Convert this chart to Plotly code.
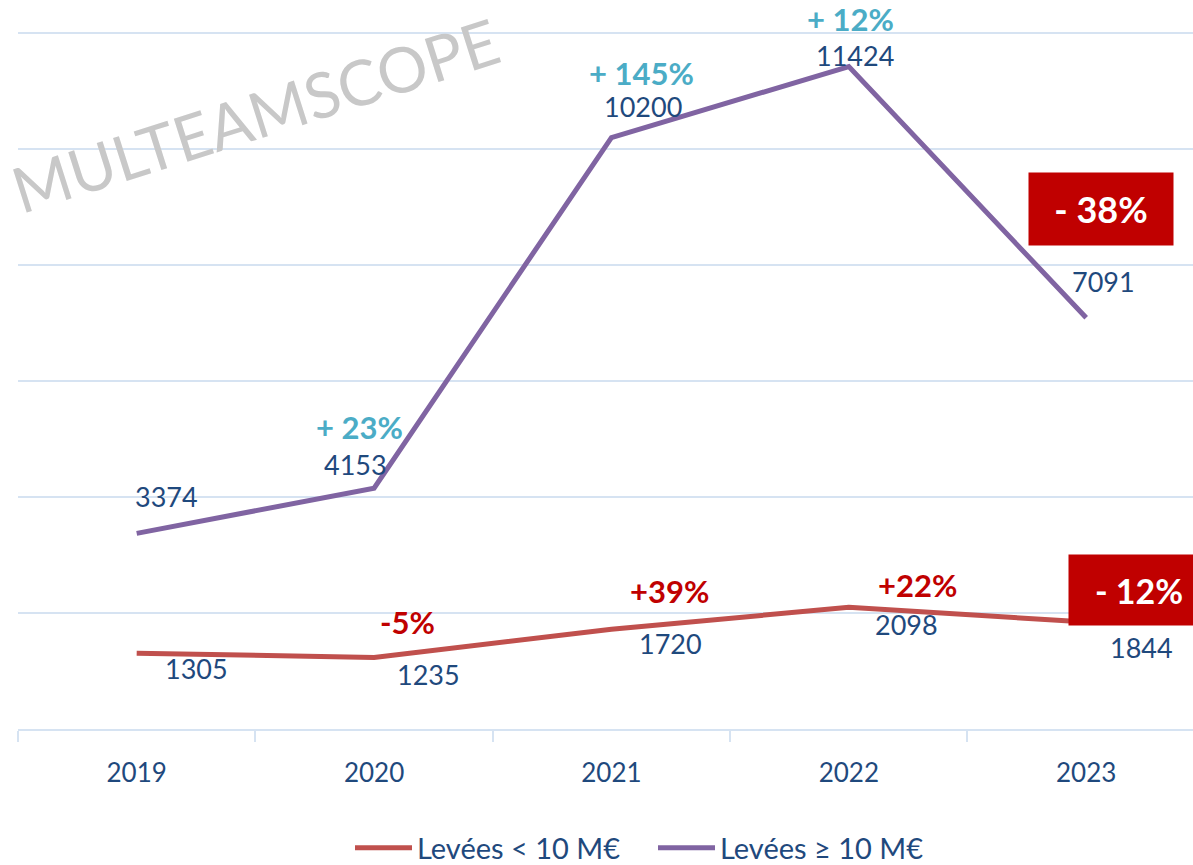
import plotly.graph_objects as go

years = ["2019", "2020", "2021", "2022", "2023"]
small = [1305, 1235, 1720, 2098, 1844]
large = [3374, 4153, 10200, 11424, 7091]
small_pct = [None, "-5%", "+39%", "+22%", "- 12%"]
large_pct = [None, "+ 23%", "+ 145%", "+ 12%", "- 38%"]
series_names = ["Levées < 10 M€", "Levées ≥ 10 M€"]

FONT = "Lato"
TXT = "#1F497D"
RED_LINE = "#C0504D"
PURPLE = "#8064A2"
CYAN = "#4BACC6"
DARKRED = "#C00000"
GRID = "#D6E3F2"

fig = go.Figure()
fig.add_trace(go.Scatter(x=list(range(5)), y=small, mode="lines", name=series_names[0],
                         line=dict(color=RED_LINE, width=5)))
fig.add_trace(go.Scatter(x=list(range(5)), y=large, mode="lines", name=series_names[1],
                         line=dict(color=PURPLE, width=5)))

ann = []
# watermark
ann.append(dict(text="MULTEAMSCOPE", xref="paper", yref="paper",
                x=(255 - 18) / 1175, y=(729 - 115) / 696, showarrow=False,
                textangle=-17.6, font=dict(family=FONT, size=63, color="#C8C8C8"),
                xanchor="center", yanchor="middle"))

# value label offsets (pixels)
large_shift = [(30, 37), (-19, 24), (32, 31), (6, 11), (17, 36)]
small_shift = [(60, -15), (54, -17), (59, -14), (58, -17), (55, -25)]
for i in range(5):
    ann.append(dict(text=str(large[i]), x=i, y=large[i], xref="x", yref="y", showarrow=False,
                    xshift=large_shift[i][0], yshift=large_shift[i][1],
                    font=dict(family=FONT, size=27, color=TXT)))
    ann.append(dict(text=str(small[i]), x=i, y=small[i], xref="x", yref="y", showarrow=False,
                    xshift=small_shift[i][0], yshift=small_shift[i][1],
                    font=dict(family=FONT, size=27, color=TXT)))

large_pct_shift = [None, (-15, 61), (30, 65), (2, 48), (15, 109)]
small_pct_shift = [None, (33, 35), (58, 38), (69, 22), (53, 32)]
for i in range(1, 5):
    if i < 4:
        ann.append(dict(text="<b>%s</b>" % large_pct[i], x=i, y=large[i], xref="x", yref="y",
                        showarrow=False, xshift=large_pct_shift[i][0], yshift=large_pct_shift[i][1],
                        font=dict(family=FONT, size=31, color=CYAN)))
        ann.append(dict(text="<b>%s</b>" % small_pct[i], x=i, y=small[i], xref="x", yref="y",
                        showarrow=False, xshift=small_pct_shift[i][0], yshift=small_pct_shift[i][1],
                        font=dict(family=FONT, size=31, color=DARKRED)))
    else:
        ann.append(dict(text="<b>%s</b>" % large_pct[i], x=i, y=large[i], xref="x", yref="y",
                        showarrow=False, xshift=large_pct_shift[i][0], yshift=large_pct_shift[i][1],
                        bgcolor=DARKRED, width=144, height=72, borderpad=0,
                        font=dict(family=FONT, size=36, color="white")))
        ann.append(dict(text="<b>%s</b>" % small_pct[i], x=i, y=small[i], xref="x", yref="y",
                        showarrow=False, xshift=small_pct_shift[i][0], yshift=small_pct_shift[i][1],
                        bgcolor=DARKRED, width=140, height=70, borderpad=0,
                        font=dict(family=FONT, size=34, color="white")))

fig.update_layout(
    width=1193, height=865,
    margin=dict(l=18, r=0, t=32, b=136),
    paper_bgcolor="white", plot_bgcolor="white",
    font=dict(family=FONT, color=TXT),
    annotations=ann,
    showlegend=True,
    legend=dict(orientation="h", x=(350 - 18) / 1175, xanchor="left",
                yref="container", y=17 / 865, yanchor="middle",
                font=dict(family=FONT, size=29, color=TXT), itemwidth=57,
                entrywidth=231, entrywidthmode="pixels", tracegroupgap=0),
    xaxis=dict(range=[-0.5, 4.45], tickmode="array", tickvals=list(range(5)), ticktext=years,
               showgrid=False, zeroline=False, showline=True, linecolor=GRID, linewidth=2,
               ticks="", tickfont=dict(family=FONT, size=26, color=TXT), ticklabelstandoff=20,
               fixedrange=True),
    yaxis=dict(range=[0, 12020], tickvals=[0, 2000, 4000, 6000, 8000, 10000, 12000],
               showgrid=True, gridcolor=GRID, gridwidth=2,
               showticklabels=False, zeroline=False, showline=False, ticks=""),
)

fig.update_xaxes(minor=dict(tickmode="array", tickvals=[-0.5, 0.5, 1.5, 2.5, 3.5],
                            ticks="outside", ticklen=11, tickcolor=GRID, tickwidth=2, showgrid=False))

fig.write_html("out.html", config={"displayModeBar": False},
               post_script="document.body.style.margin='0';document.body.style.overflow='hidden';")
